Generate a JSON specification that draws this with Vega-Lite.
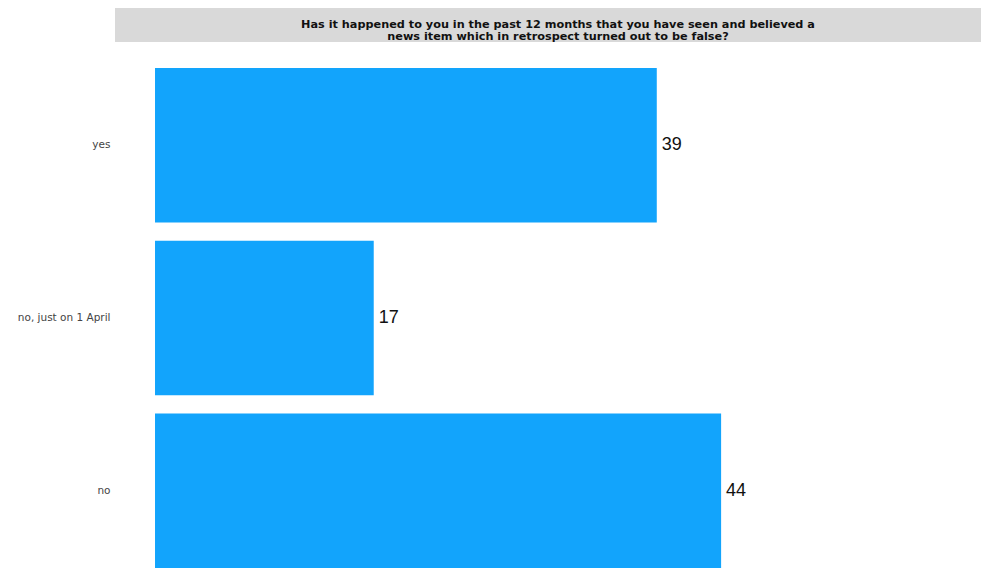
{
  "$schema": "https://vega.github.io/schema/vega-lite/v6.json",
  "background": "#ffffff",
  "padding": {"left": 17, "top": 8, "right": 0, "bottom": 5},
  "spacing": 25,
  "config": {
    "view": {"stroke": null},
    "concat": {"spacing": 25},
    "font": "Liberation Sans"
  },
  "vconcat": [
    {
      "width": 866,
      "height": 34,
      "view": {"fill": "#d9d9d9", "stroke": null},
      "data": {"values": [{"title": "Has it happened to you in the past 12 months that you have seen and believed a\nnews item which in retrospect turned out to be false?"}]},
      "mark": {"type": "text", "lineBreak": "\n", "font": "DejaVu Sans", "fontWeight": "bold", "fontSize": 11.25, "lineHeight": 12, "color": "#111111", "align": "center", "baseline": "middle", "dx": 10},
      "encoding": {"text": {"field": "title"}}
    },
    {
      "width": 866,
      "height": 500,
      "data": {"values": [
        {"answer": "yes", "value": 39},
        {"answer": "no, just on 1 April", "value": 17},
        {"answer": "no", "value": 44}
      ]},
      "encoding": {
        "y": {"field": "answer", "type": "nominal", "sort": null,
              "scale": {"paddingInner": 0.105, "paddingOuter": 0},
              "axis": {"title": null, "ticks": false, "domain": false, "labelPadding": 5, "labelFontSize": 10.5, "labelColor": "#444444", "labelFont": "DejaVu Sans"}},
        "x": {"field": "value", "type": "quantitative", "scale": {"domain": [-3.11, 64.2], "nice": false, "zero": false}, "axis": null}
      },
      "layer": [
        {"mark": {"type": "bar", "color": "#12a4fc"}, "encoding": {"x2": {"datum": 0}}},
        {"mark": {"type": "text", "align": "left", "baseline": "middle", "dx": 5, "fontSize": 18, "color": "#111111", "font": "Liberation Sans"},
         "encoding": {"text": {"field": "value", "type": "quantitative"}}}
      ]
    }
  ]
}
